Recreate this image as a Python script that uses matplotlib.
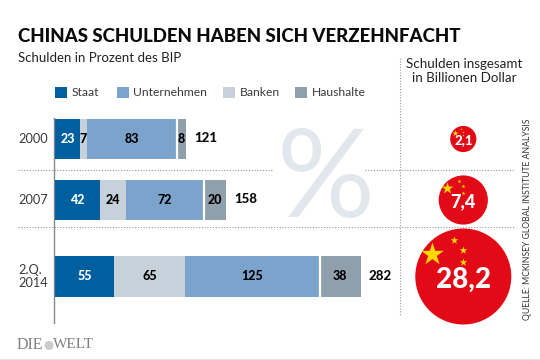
import numpy as np
import matplotlib
matplotlib.use('Agg')
import matplotlib.pyplot as plt
from matplotlib.patches import Circle, Rectangle

plt.rcParams['font.family'] = ['Lato', 'DejaVu Sans']

# Daten
jahre = ['2000', '2007', '2.Q.\n2014']
staat = [23, 42, 55]
banken = [7, 24, 65]
unternehmen = [83, 72, 125]
haushalte = [8, 20, 38]
gesamt = [121, 158, 282]
billionen = [2.1, 7.4, 28.2]
billionen_text = ['2,1', '7,4', '28,2']
legende = ['Staat', 'Unternehmen', 'Banken', 'Haushalte']

C_STAAT = '#00609f'
C_UNT = '#7ba3cc'
C_BANK = '#c6d1d9'
C_HAUS = '#8f9fac'
C_TEXT = '#3a3a3a'
C_ROT = '#e30a17'
C_GELB = '#ffd800'

W, H = 540, 360
fig = plt.figure(figsize=(W / 100, H / 100), dpi=100, facecolor='white')

# Hauptachse in Pixeln
ax = fig.add_axes([0, 0, 1, 1])
ax.set_xlim(0, W)
ax.set_ylim(H, 0)
ax.axis('off')

ax.text(18, 36.5, 'CHINAS SCHULDEN HABEN SICH VERZEHNFACHT', fontsize=13.4,
        fontweight='black', color='#0a0a0a', va='center', ha='left')
ax.text(18, 58, 'Schulden in Prozent des BIP', fontsize=9.5, color='#222222', va='center')
ax.text(464.5, 71, 'Schulden insgesamt\nin Billionen Dollar', fontsize=9.6, color='#222222',
        ha='center', va='center', linespacing=1.2)

# Legende
for x, name, col in zip([55, 117, 223, 295], legende, [C_STAAT, C_UNT, C_BANK, C_HAUS]):
    ax.add_patch(Rectangle((x, 86.5), 11.5, 11.5, fc=col, ec='none'))
    ax.text(x + 16.5, 92.5, name, fontsize=8.7, color=C_TEXT, va='center')

# Prozentzeichen im Hintergrund
ax.text(326, 182, '%', fontsize=88, fontweight='normal', color='#e1e7ed', ha='center',
        va='center', zorder=0)

# Trennlinien
dots = dict(color='#999999', lw=0.8, ls=(0, (1, 1.5)))
ax.plot([18, 272], [169.5, 169.5], **dots)
ax.plot([365, 515], [169.5, 169.5], **dots)
ax.plot([18, 515], [227, 227], **dots)
ax.plot([399.5, 399.5], [58, 316], **dots)
ax.plot([53.5, 53.5], [118, 323], color='#888888', lw=1)
ax.plot([0, W], [359, 359], color='#e6e6e6', lw=0.8)

# Balken
ypos = np.array([139, 200, 276.5])
px = 1.08
bx = fig.add_axes([55 / W, 1 - 320 / H, 320 * px / W, 220 / H])
bx.set_xlim(0, 320)
bx.set_ylim(320, 100)
bx.axis('off')
bx.patch.set_alpha(0)

links = np.zeros(3)
for werte, col, tcol in [(staat, C_STAAT, 'white'), (banken, C_BANK, 'black'),
                         (unternehmen, C_UNT, 'black'), (haushalte, C_HAUS, 'black')]:
    bx.barh(ypos, werte, left=links, height=40.5, color=col, lw=0)
    for y, l, v in zip(ypos, links, werte):
        bx.text(l + v / 2, y, str(v), color=tcol, fontsize=9, fontweight='black',
                ha='center', va='center')
    links = links + np.array(werte)
    # weisser Spalt vor Haushalte
    if col == C_UNT:
        for y, l in zip(ypos, links):
            bx.plot([l + 0.3, l + 0.3], [y - 20.5, y + 20.5], color='white', lw=1.6,
                    solid_capstyle='butt', zorder=5)

for y, l, g in zip(ypos, links, gesamt):
    bx.text(l + 7.5, y - 0.5, str(g), fontsize=9.5, fontweight='black', color='#0a0a0a', va='center')

for y, j in zip(ypos, jahre):
    ax.text(18, y, j, fontsize=9.2, color=C_TEXT, va='center', linespacing=1.05)

# Kreise mit Sternen, Flaeche nach Wert
r_max = 48
cx = 463.3
sterne = [(-0.66, -0.47, 300), (-0.19, -0.76, 34), (0.0, -0.55, 34), (0.0, -0.30, 34)]
for y, wert, txt, fs in zip(ypos, billionen, billionen_text, [9.5, 13, 20]):
    r = r_max * np.sqrt(wert / max(billionen))
    ax.add_patch(Circle((cx, y), r, fc=C_ROT, ec='none', zorder=2))
    for sx, sy, s in sterne:
        ax.scatter(cx + sx * r, y + sy * r, s=s * (r / r_max) ** 2, marker='*', color=C_GELB, lw=0, zorder=3)
    ax.text(cx, y + 0.07 * r, txt, color='white', fontweight='black', ha='center', va='center',
            fontsize=fs, zorder=4)

# Quelle und Logo
ax.text(528, 320, 'QUELLE: MCKINSEY GLOBAL INSTITUTE ANALYSIS', rotation=90, fontsize=6.2,
        color='#333333', ha='center', va='bottom')
ax.text(17, 345, 'DIE', fontsize=11.5, family='Liberation Serif', color='#808080', va='center')
ax.add_patch(Circle((49, 345.5), 4.5, fc='#cccccc', ec='none'))
ax.text(53, 345, 'WELT', fontsize=11, family='Liberation Serif', color='#808080', va='center')

fig.savefig('out.png', dpi=100)
